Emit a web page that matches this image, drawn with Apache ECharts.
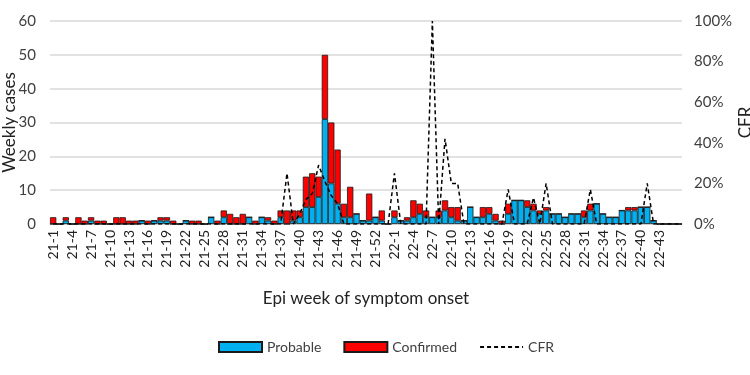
<!DOCTYPE html>
<html>
<head>
<meta charset="utf-8">
<script src="https://cdn.jsdelivr.net/npm/echarts@6/dist/echarts.min.js"></script>
<style>
  html, body { margin: 0; padding: 0; background: #fff; }
  #chart { width: 750px; height: 375px; }
</style>
</head>
<body>
<div id="chart"></div>
<script>
// epi weeks (100 slots on the axis, labels shown every 3rd)
const weeks = [];
for (let w = 1; w <= 53; w++) weeks.push("21-" + w);
for (let w = 0; w <= 46; w++) weeks.push("22-" + w);

// weekly cases
const probable = [
  0, 0, 1, 0, 0, 0, 1, 0, 0, 0,
  0, 0, 0, 0, 1, 0, 1, 1, 1, 0,
  0, 1, 0, 0, 0, 2, 0, 2, 0, 0,
  0, 2, 0, 2, 1, 0, 2, 0, 1, 2,
  5, 5, 8, 31, 12, 6, 2, 2, 3, 1,
  1, 2, 1, 0, 2, 1, 1, 2, 3, 2,
  2, 2, 4, 2, 1, 1, 5, 2, 2, 3,
  1, 0, 3, 7, 7, 5, 4, 3, 4, 3,
  3, 2, 3, 3, 2, 4, 6, 3, 2, 2,
  4, 4, 4, 5, 5, 1, 0, 0, 0, 0
];
const confirmed = [
  2, 0, 1, 0, 2, 1, 1, 1, 1, 0,
  2, 2, 1, 1, 0, 1, 0, 1, 1, 1,
  0, 0, 1, 1, 0, 0, 1, 2, 3, 2,
  3, 0, 1, 0, 1, 1, 2, 4, 3, 2,
  9, 10, 6, 19, 18, 16, 4, 9, 0, 0,
  8, 0, 3, 0, 2, 0, 1, 5, 3, 2,
  0, 2, 3, 3, 4, 0, 0, 0, 3, 2,
  2, 1, 3, 0, 0, 2, 2, 1, 1, 0,
  0, 0, 0, 0, 2, 2, 0, 0, 0, 0,
  0, 1, 1, 0, 0, 0, 0, 0, 0, 0
];
// case fatality rate (fraction)
const cfr = [
  0, 0, 0, 0, 0, 0, 0, 0, 0, 0,
  0, 0, 0, 0, 0, 0, 0, 0, 0, 0,
  0, 0, 0, 0, 0, 0, 0, 0, 0, 0,
  0, 0, 0, 0, 0, 0, 0, 0.25, 0, 0.05,
  0.12, 0.15, 0.29, 0.21, 0.14, 0.1, 0, 0, 0, 0,
  0, 0, 0, 0, 0.25, 0, 0, 0, 0, 0,
  1.0, 0, 0.42, 0.2, 0.2, 0, 0, 0, 0, 0,
  0, 0, 0.17, 0, 0, 0, 0.13, 0, 0.2, 0,
  0, 0, 0, 0, 0, 0.17, 0, 0, 0, 0,
  0, 0, 0, 0, 0.2, 0, 0, 0, 0, 0
];

const font = "Lato, 'Open Sans', sans-serif";
const textColor = "#404040";

const chart = echarts.init(document.getElementById("chart"));
chart.setOption({
  animation: false,
  textStyle: { fontFamily: font, color: textColor },
  grid: { left: 50, right: 68, top: 21, bottom: 151, outerBoundsMode: "none" },
  legend: {
    top: 335,
    left: 213,
    itemGap: 22,
    itemWidth: 43,
    itemHeight: 10,
    textStyle: { fontSize: 14, color: textColor, fontFamily: font },
    data: [
      { name: "Probable", icon: "rect" },
      { name: "Confirmed", icon: "rect" },
      { name: "CFR", itemStyle: { opacity: 0 } }
    ]
  },
  xAxis: {
    type: "category",
    data: weeks,
    name: "Epi week of symptom onset",
    nameLocation: "middle",
    nameGap: 66,
    nameMoveOverlap: false,
    nameTextStyle: { fontSize: 17, color: "#222" },
    axisLine: { lineStyle: { color: "#d9d9d9", width: 1.5 } },
    axisTick: { show: false },
    axisLabel: {
      interval: 2,
      showMaxLabel: false,
      rotate: 90,
      fontSize: 14,
      color: "#222",
      margin: 6
    }
  },
  yAxis: [
    {
      type: "value",
      min: 0,
      max: 60,
      interval: 10,
      name: "Weekly cases",
      nameLocation: "middle",
      nameGap: 32,
      nameMoveOverlap: false,
      nameRotate: 90,
      nameTextStyle: { fontSize: 17, color: "#222" },
      axisLabel: { fontSize: 15, color: textColor, margin: 14 },
      splitLine: { lineStyle: { color: "#d9d9d9", width: 1.5 } }
    },
    {
      type: "value",
      min: 0,
      max: 1,
      interval: 0.2,
      name: "CFR",
      nameLocation: "middle",
      nameGap: 55,
      nameMoveOverlap: false,
      nameRotate: 90,
      nameTextStyle: { fontSize: 17, color: "#222" },
      splitLine: { show: false },
      axisLabel: {
        fontSize: 15,
        color: textColor,
        margin: 12,
        formatter: (v) => Math.round(v * 100) + "%"
      }
    }
  ],
  series: [
    {
      name: "Probable",
      type: "bar",
      stack: "cases",
      data: probable,
      barCategoryGap: 0,
      itemStyle: { color: "#00b0f0", borderColor: "#1a1a1a", borderWidth: 0.8 }
    },
    {
      name: "Confirmed",
      type: "bar",
      stack: "cases",
      data: confirmed,
      barCategoryGap: 0,
      itemStyle: { color: "#ff0000", borderColor: "#1a1a1a", borderWidth: 0.8 }
    },
    {
      name: "CFR",
      type: "line",
      yAxisIndex: 1,
      data: cfr,
      symbol: "none",
      lineStyle: { color: "#000", width: 1.5, type: [4, 3] },
      itemStyle: { color: "#000" },
      z: 5
    }
  ]
});
</script>
</body>
</html>
